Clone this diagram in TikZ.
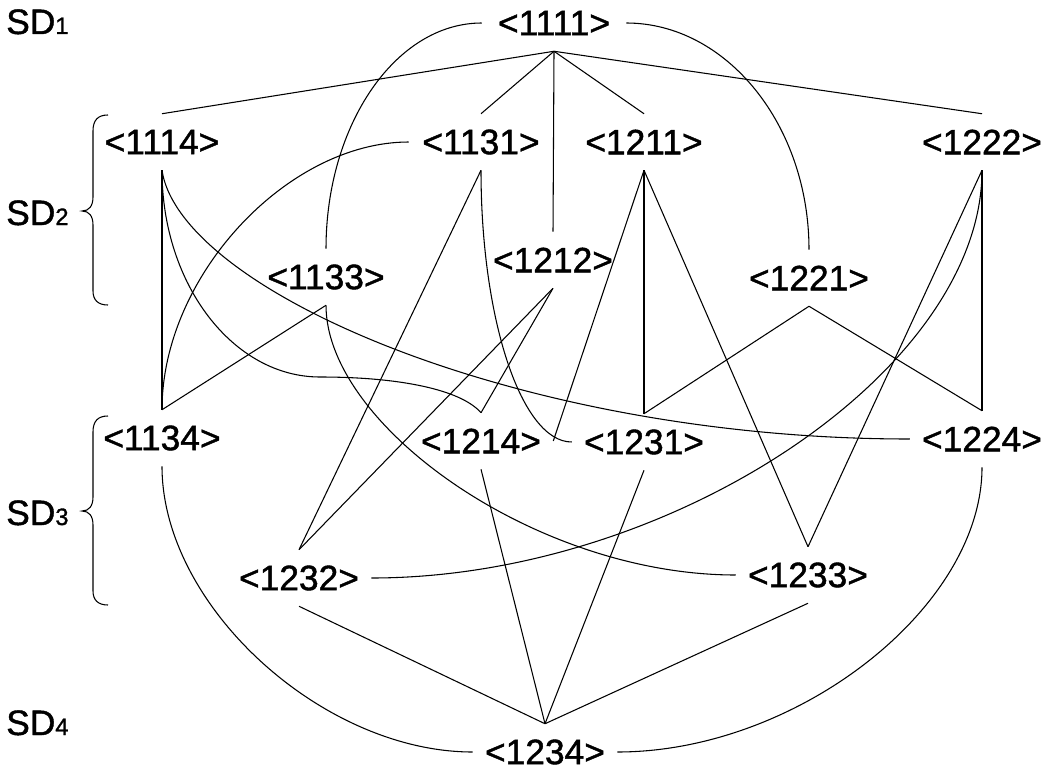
\documentclass[tikz,border=0pt]{standalone}
\usepackage{fontspec}
\setmainfont{Liberation Sans}[FakeBold=1.2]
\begin{document}
\begin{tikzpicture}[x=0.75pt,y=-0.75pt,
  lbl/.style={minimum width=108pt, minimum height=42pt, inner sep=0pt, font=\fontsize{26.5}{30}\selectfont},
  sdl/.style={anchor=base west, inner sep=0pt, font=\fontsize{26.5}{30}\selectfont},
  con/.style={line width=0.8pt},
  brc/.style={line width=0.8pt}]
\useasboundingbox (0,0) rectangle (1044,770);
\newcommand{\subd}[1]{{\fontsize{17.8}{20}\selectfont #1}}
% level labels
\node[sdl] (sd1) at (6,34) {SD\subd{1}};
\node[sdl] (sd2) at (6,225) {SD\subd{2}};
\node[sdl] (sd3) at (6,525) {SD\subd{3}};
\node[sdl] (sd4) at (6,735) {SD\subd{4}};
% braces
\draw[brc] (108,115) .. controls (98,115) and (93,120) .. (93,131) -- (93,197)
  .. controls (93,206) and (89,211) .. (82,211) .. controls (89,211) and (93,216) .. (93,225)
  -- (93,291) .. controls (93,300) and (98,305) .. (108,305);
\draw[brc] (108,416) .. controls (98,416) and (93,421) .. (93,432) -- (93,497)
  .. controls (93,506) and (89,511) .. (82,511) .. controls (89,511) and (93,516) .. (93,525)
  -- (93,591) .. controls (93,600) and (98,605) .. (108,605);
% nodes
\node[lbl] (n1111) at (554,23) {<1111>};
\node[lbl] (n1114) at (162,142) {<1114>};
\node[lbl] (n1131) at (481,142) {<1131>};
\node[lbl] (n1211) at (644,142) {<1211>};
\node[lbl] (n1222) at (982,142) {<1222>};
\node[lbl] (n1133) at (326,277) {<1133>};
\node[lbl] (n1212) at (553,260) {<1212>};
\node[lbl] (n1221) at (809,278) {<1221>};
\node[lbl] (n1134) at (162,438) {<1134>};
\node[lbl] (n1214) at (481,441) {<1214>};
\node[lbl] (n1231) at (644,442) {<1231>};
\node[lbl] (n1224) at (982,439) {<1224>};
\node[lbl] (n1232) at (299,578) {<1232>};
\node[lbl] (n1233) at (808,575) {<1233>};
\node[lbl] (n1234) at (545,752) {<1234>};
% connectors
\draw[con] (n1111.south) -- (n1114.north);
\draw[con] (n1111.south) -- (n1131.north);
\draw[con] (n1111.south) -- (n1212.north);
\draw[con] (n1111.south) -- (n1211.north);
\draw[con] (n1111.south) -- (n1222.north);
\draw[con] (n1111.west) .. controls +(-86,0) and +(0,-124) .. (n1133.north);
\draw[con] (n1111.east) .. controls +(100,0) and +(0,-125) .. (n1221.north);
\draw[con] (n1114.south) -- (n1134.north);
\draw[con] (n1114.south) .. controls +(18,120) and +(-391,0) .. (n1224.west);
\draw[con] (n1114.south) .. controls +(0,114) and +(-87,0) .. (320,377) .. controls +(80,0) and +(-20,-23) .. (n1214.north);
\draw[con] (n1131.west) .. controls +(-121,0) and +(0,-134) .. (n1134.north);
\draw[con] (n1131.south) -- (n1232.north);
\draw[con] (n1131.south) .. controls +(0,150) and +(-50,0) .. (n1231.west);
\draw[con] (n1211.south) -- (n1214.east);
\draw[con] (n1211.south) -- (n1231.north);
\draw[con] (n1211.south) -- (n1233.north);
\draw[con] (n1222.south) -- (n1224.north);
\draw[con] (n1222.south) -- (n1233.north);
\draw[con] (n1222.south) .. controls +(0,200) and +(300,0) .. (n1232.east);
\draw[con] (n1133.south) -- (n1134.north);
\draw[con] (n1133.south) .. controls +(0,120) and +(-200,0) .. (n1233.west);
\draw[con] (n1212.south) -- (n1214.north);
\draw[con] (n1212.south) -- (n1232.north);
\draw[con] (n1221.south) -- (n1231.north);
\draw[con] (n1221.south) -- (n1224.north);
\draw[con] (n1134.south) .. controls +(0,140) and +(-150,0) .. (n1234.west);
\draw[con] (n1224.south) .. controls +(0,140) and +(180,0) .. (n1234.east);
\draw[con] (n1232.south) -- (n1234.north);
\draw[con] (n1214.south) -- (n1234.north);
\draw[con] (n1231.south) -- (n1234.north);
\draw[con] (n1233.south) -- (n1234.north);
\end{tikzpicture}
\end{document}
